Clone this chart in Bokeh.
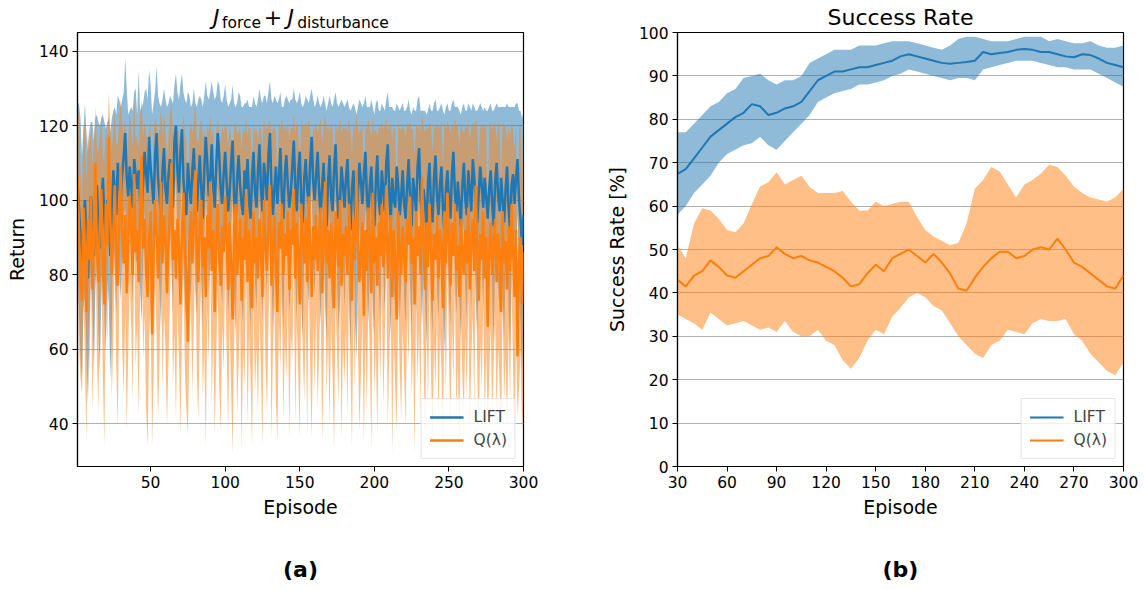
from bokeh.plotting import figure
from bokeh.models import Range1d, FixedTicker, LinearAxis
from bokeh.layouts import row
from bokeh.embed import file_html
from bokeh.resources import INLINE

FONT = "DejaVu Sans"
BLUE = "#1f77b4"
ORANGE = "#ff7f0e"

# ---------------- Panel (a): return per episode ----------------
episodes_a = list(range(1, 301))

lift_mean = [
    104, 98, 90, 82, 95, 100, 88, 79, 92, 101, 96, 85, 99, 104, 93, 87, 98, 106, 95, 89,
    100, 97, 85, 94, 108, 103, 96, 110, 104, 99, 107, 112, 118, 106, 101, 109, 104, 98, 111, 107,
    103, 108, 100, 96, 105, 113, 107, 102, 117, 109, 104, 99, 112, 118, 106, 101, 95, 108, 114, 103,
    99, 107, 111, 104, 98, 116, 120, 108, 102, 113, 119, 106, 100, 96, 110, 104, 99, 108, 114, 101,
    97, 105, 112, 103, 95, 108, 117, 110, 101, 106, 115, 104, 98, 109, 118, 112, 103, 99, 107, 113,
    105, 97, 102, 110, 116, 101, 94, 106, 112, 104, 99, 96, 108, 103, 111, 100, 95, 106, 113, 102,
    98, 108, 115, 103, 97, 110, 106, 100, 112, 118, 104, 96, 103, 109, 99, 106, 114, 101, 95, 107,
    112, 104, 98, 102, 109, 116, 103, 97, 108, 113, 100, 94, 106, 111, 103, 99, 110, 117, 105, 100,
    107, 113, 102, 96, 104, 110, 99, 93, 105, 112, 101, 97, 108, 115, 103, 95, 100, 109, 104, 98,
    106, 111, 100, 92, 103, 108, 97, 90, 102, 110, 105, 99, 107, 113, 101, 96, 104, 109, 98, 93,
    105, 112, 100, 96, 108, 103, 97, 110, 115, 102, 94, 106, 100, 98, 109, 104, 96, 101, 108, 99,
    95, 104, 111, 100, 93, 106, 102, 97, 109, 114, 101, 95, 103, 99, 92, 105, 110, 98, 94, 106,
    112, 101, 96, 104, 109, 98, 91, 103, 108, 100, 95, 107, 113, 102, 97, 105, 99, 93, 104, 110,
    100, 96, 108, 103, 97, 111, 106, 99, 94, 102, 109, 104, 98, 106, 101, 95, 103, 108, 99, 93,
    105, 110, 101, 97, 106, 100, 94, 103, 109, 98, 92, 104, 107, 99, 106, 111, 100, 95, 88, 96,
]
lift_std = [
    22, 28, 32, 30, 24, 26, 30, 34, 27, 20, 25, 31, 23, 19, 28, 33, 24, 17, 26, 30,
    21, 25, 33, 28, 16, 22, 27, 18, 23, 26, 20, 17, 20, 24, 22, 15, 21, 26, 18, 23,
    20, 27, 24, 29, 21, 16, 23, 25, 18, 22, 19, 27, 17, 18, 22, 25, 30, 19, 16, 24,
    26, 19, 17, 23, 28, 15, 14, 21, 25, 18, 15, 23, 27, 30, 19, 24, 26, 18, 16, 25,
    28, 22, 16, 24, 30, 20, 15, 18, 26, 23, 17, 25, 29, 19, 14, 19, 24, 27, 21, 18,
    22, 28, 24, 17, 15, 25, 31, 20, 17, 24, 26, 29, 18, 23, 16, 25, 30, 19, 15, 24,
    27, 19, 15, 24, 29, 18, 22, 26, 17, 14, 23, 30, 25, 18, 27, 21, 15, 24, 30, 20,
    16, 23, 28, 25, 18, 14, 24, 29, 19, 16, 26, 31, 20, 17, 24, 27, 18, 13, 22, 25,
    19, 15, 24, 29, 22, 18, 27, 31, 21, 16, 25, 28, 19, 14, 23, 30, 26, 18, 22, 27,
    20, 16, 25, 32, 22, 18, 28, 33, 23, 17, 21, 26, 19, 15, 24, 29, 21, 18, 27, 30,
    21, 15, 24, 28, 18, 22, 27, 17, 14, 23, 31, 19, 24, 26, 17, 21, 28, 24, 18, 25,
    29, 21, 16, 24, 30, 19, 22, 27, 18, 14, 23, 29, 21, 25, 31, 19, 16, 26, 30, 20,
    15, 23, 28, 21, 17, 26, 32, 22, 18, 24, 29, 19, 14, 23, 28, 20, 25, 30, 21, 16,
    24, 28, 18, 22, 27, 15, 19, 25, 30, 23, 17, 21, 26, 19, 23, 29, 22, 18, 25, 31,
    20, 16, 24, 28, 19, 25, 31, 22, 17, 27, 33, 21, 18, 26, 20, 15, 24, 29, 34, 28,
]
q_mean = [
    106, 92, 80, 73, 98, 88, 70, 95, 84, 101, 76, 90, 110, 86, 78, 94, 103, 82, 72, 99,
    88, 117, 95, 80, 91, 104, 85, 77, 98, 109, 90, 83, 96, 75, 88, 101, 93, 80, 107, 86,
    92, 78, 99, 112, 87, 95, 81, 74, 90, 97, 64, 85, 100, 92, 79, 88, 105, 83, 96, 90,
    75, 87, 98, 110, 84, 92, 79, 95, 88, 72, 91, 102, 86, 80, 62, 89, 97, 83, 94, 108,
    85, 78, 93, 100, 82, 90, 74, 96, 87, 105, 81, 92, 70, 88, 99, 84, 77, 93, 86, 101,
    89, 76, 94, 83, 68, 91, 99, 80, 87, 95, 73, 90, 84, 102, 78, 92, 86, 71, 97, 83,
    90, 79, 95, 86, 74, 100, 88, 81, 93, 104, 77, 89, 96, 82, 70, 94, 87, 99, 80, 91,
    85, 97, 76, 92, 88, 103, 79, 94, 86, 72, 99, 90, 83, 95, 78, 101, 87, 74, 93, 84,
    96, 81, 90, 98, 75, 88, 105, 83, 92, 79, 94, 86, 71, 97, 89, 82, 100, 77, 91, 85,
    93, 80, 99, 87, 73, 95, 84, 108, 90, 78, 86, 94, 69, 92, 81, 98, 88, 75, 102, 83,
    90, 77, 94, 85, 99, 82, 91, 104, 79, 88, 96, 74, 92, 84, 68, 97, 87, 80, 93, 86,
    78, 95, 88, 101, 83, 90, 72, 97, 85, 93, 80, 106, 89, 76, 94, 82, 99, 87, 73, 91,
    84, 96, 79, 92, 88, 71, 97, 83, 102, 90, 77, 94, 85, 99, 81, 88, 74, 95, 86, 80,
    92, 83, 98, 76, 89, 95, 81, 104, 87, 73, 91, 84, 97, 79, 90, 66, 86, 94, 80, 88,
    95, 78, 91, 85, 70, 97, 83, 89, 76, 93, 81, 99, 87, 74, 92, 58, 84, 90, 72, 86,
]
q_std = [
    20, 30, 28, 25, 22, 32, 35, 24, 30, 18, 33, 26, 15, 28, 35, 24, 20, 30, 38, 22,
    27, 12, 25, 33, 28, 20, 30, 38, 24, 18, 30, 35, 26, 37, 29, 22, 27, 34, 20, 31,
    25, 36, 24, 15, 30, 26, 37, 40, 28, 25, 30, 33, 22, 28, 38, 31, 20, 34, 27, 30,
    36, 30, 25, 17, 33, 28, 38, 24, 30, 35, 27, 21, 32, 36, 25, 29, 24, 35, 27, 19,
    32, 37, 27, 22, 35, 29, 40, 25, 31, 18, 36, 28, 33, 30, 23, 34, 39, 27, 32, 20,
    30, 38, 26, 34, 36, 29, 22, 38, 31, 25, 40, 30, 34, 20, 39, 28, 33, 37, 24, 35,
    29, 37, 25, 33, 40, 22, 31, 38, 27, 18, 41, 30, 24, 36, 35, 27, 32, 23, 39, 29,
    33, 24, 40, 28, 31, 20, 39, 27, 33, 36, 23, 30, 37, 26, 41, 21, 32, 38, 27, 35,
    25, 37, 30, 24, 40, 32, 18, 36, 28, 39, 27, 33, 38, 24, 30, 37, 22, 41, 29, 34,
    27, 38, 23, 32, 39, 26, 35, 15, 29, 40, 33, 26, 34, 28, 38, 24, 31, 42, 20, 35,
    29, 40, 26, 34, 22, 37, 29, 18, 40, 31, 25, 42, 28, 35, 30, 24, 32, 39, 27, 33,
    39, 26, 32, 20, 36, 29, 40, 24, 34, 27, 38, 17, 31, 42, 26, 37, 22, 33, 40, 29,
    35, 25, 40, 28, 33, 38, 24, 36, 19, 30, 41, 27, 34, 23, 39, 32, 40, 26, 33, 38,
    28, 36, 23, 40, 31, 26, 38, 18, 33, 37, 29, 35, 24, 40, 30, 25, 34, 27, 39, 32,
    26, 38, 30, 35, 33, 24, 37, 31, 40, 27, 36, 22, 32, 39, 28, 16, 35, 30, 34, 40,
]

xticks_a = [50, 100, 150, 200, 250, 300]
yticks_a = [40, 60, 80, 100, 120, 140]

# ---------------- Panel (b): success rate ----------------
episodes_b = list(range(30, 301, 5))
lift_sr = [67.4, 68.5, 71, 73.5, 76, 77.5, 79, 80.5, 81.5, 83.5, 83, 81, 81.5, 82.5, 83, 84,
           86.5, 89, 90, 91, 91, 91.5, 92, 92, 92.5, 93, 93.5, 94.5, 95, 94.5, 94, 93.5,
           93, 92.8, 93, 93.2, 93.5, 95.5, 95, 95.3, 95.5, 96, 96.2, 96, 95.5, 95.5, 95,
           94.5, 94.3, 95, 94.8, 94, 93, 92.5, 92]
lift_hi = [77, 77, 79, 81, 83, 84, 86, 87, 89.5, 90, 90.5, 89, 88, 89, 89, 90,
           93, 94, 95, 96, 96, 96, 97, 97, 97, 97.5, 98, 98, 98, 97.5, 97, 96.5,
           96, 97, 98.5, 99, 99, 98.5, 98, 98, 98, 98.5, 99, 99, 99, 98, 98.5,
           98, 97.5, 97.5, 98, 97, 96.5, 96.5, 97]
lift_lo = [58, 60, 63, 65, 67, 70, 72, 73, 74, 74.5, 76, 74, 73, 75, 77, 79,
           81, 84, 85, 86, 86.5, 87, 88, 88, 88.5, 89, 90, 90.5, 91.5, 91, 90.5, 90,
           89.5, 89, 89.5, 89.5, 89, 91.5, 92, 92.5, 93, 93.5, 93.5, 93.5, 93, 92.5, 92,
           92, 91.5, 91.5, 91.5, 90.5, 89.5, 88.5, 87.5]
q_sr = [43, 41.5, 44, 45, 47.5, 46, 44, 43.5, 45, 46.5, 48, 48.5, 50.5, 49, 48, 48.5,
        47.5, 47, 46, 45, 43.5, 41.5, 42, 44.5, 46.5, 45, 48, 49, 50, 48.5, 47, 49,
        47, 44.5, 41, 40.5, 43.5, 46, 48, 49.5, 49.5, 48, 48.5, 50, 50.5, 50, 52.5,
        50, 47, 46, 44.5, 43, 41.5, 41, 44]
q_hi = [51, 48, 56, 59.5, 59, 57, 54.5, 54, 56, 60.5, 64.5, 65.5, 67.8, 65, 66, 67,
        64.4, 63, 63, 63, 63.5, 61, 59, 59, 61, 60, 60.5, 61, 61, 57.5, 54.5, 53,
        52, 51, 51.5, 56, 64, 66, 69, 68, 65, 62, 65, 66, 67.5, 69.5, 69,
        67, 64.5, 63, 62, 61.5, 61, 62, 64]
q_lo = [35, 34, 33, 31.5, 35.5, 34, 32.5, 33, 33.5, 32.5, 31.5, 32, 31, 33.5, 31, 30,
        30, 31.5, 29, 28, 24.5, 22.5, 25, 29, 31.5, 30.5, 34.5, 36.5, 39, 40, 39, 37,
        36, 33, 30, 28, 26, 25, 28, 29, 31.5, 31, 30.5, 33, 34, 33.5, 33.5,
        34, 30.5, 29, 26, 24, 22, 21, 24]

xticks_b = [30, 60, 90, 120, 150, 180, 210, 240, 270, 300]
yticks_b = [0, 10, 20, 30, 40, 50, 60, 70, 80, 90, 100]

# title pieces, keyed by horizontal anchor in episode units
title_main_a = {94: "J", 132: "+", 144: "J"}
title_sub_a = {111: "force", 179: "disturbance"}
title_b = {165: "Success Rate"}


def make_fig(xr, yr, left, right, xticks, yticks, ylabel, tag):
    p = figure(width=572, height=589, x_range=Range1d(*xr), y_range=Range1d(*yr),
               output_backend="svg", toolbar_location=None,
               min_border_left=left, min_border_right=right,
               min_border_top=32, min_border_bottom=123)
    p.background_fill_color = "white"
    p.border_fill_color = "white"
    p.outline_line_color = "black"
    p.outline_line_width = 1.2
    p.outline_line_alpha = 1
    p.xgrid.visible = False
    p.ygrid.grid_line_color = "#b0b0b0"
    p.ygrid.grid_line_width = 1
    p.xaxis.ticker = FixedTicker(ticks=xticks)
    p.yaxis.ticker = FixedTicker(ticks=yticks)
    for ax in [p.xaxis[0], p.yaxis[0]]:
        ax.axis_line_color = "black"
        ax.axis_line_width = 1.2
        ax.major_tick_line_color = "black"
        ax.major_tick_in = 0
        ax.major_tick_out = 5
        ax.minor_tick_line_color = None
        ax.major_label_text_font = FONT
        ax.major_label_text_font_size = "15.5px"
        ax.major_label_text_color = "black"
        ax.axis_label_text_font = FONT
        ax.axis_label_text_font_size = "19px"
        ax.axis_label_text_font_style = "normal"
        ax.axis_label_text_color = "black"
        ax.major_label_standoff = 4
    p.xaxis.axis_label = "Episode"
    p.xaxis.axis_label_standoff = 5
    p.yaxis.axis_label = ylabel
    p.yaxis.axis_label_standoff = 8
    tag_axis = LinearAxis(ticker=FixedTicker(ticks=[]), axis_label=tag,
                          axis_line_color=None, major_tick_line_color=None,
                          minor_tick_line_color=None,
                          axis_label_text_font=FONT, axis_label_text_font_size="22px",
                          axis_label_text_font_style="bold", axis_label_text_color="black",
                          axis_label_standoff=36)
    p.add_layout(tag_axis, "below")
    return p


def text_axis(pieces, size, style, standoff):
    ticks = sorted(pieces.keys())
    return LinearAxis(ticker=FixedTicker(ticks=ticks),
                      major_label_overrides={t: pieces[t] for t in ticks},
                      axis_line_color=None, major_tick_line_color=None,
                      minor_tick_line_color=None, major_tick_in=0, major_tick_out=0,
                      major_label_text_font=FONT, major_label_text_font_size=size,
                      major_label_text_font_style=style, major_label_text_color="black",
                      major_label_standoff=standoff)


def style_legend(p):
    lg = p.legend[0]
    lg.location = "bottom_right"
    lg.label_text_font = FONT
    lg.label_text_font_size = "15.5px"
    lg.glyph_width = 34
    lg.glyph_height = 20
    lg.label_standoff = 10
    lg.spacing = 3
    lg.padding = 8
    lg.margin = 7
    lg.border_line_color = "#cccccc"
    lg.border_line_width = 1
    lg.background_fill_alpha = 0.8


# ---- figure (a)
pa = make_fig((1, 300), (28.5, 145), 77, 49, xticks_a, yticks_a, "Return", "(a)")
n = min(len(lift_mean), len(lift_std), len(q_mean), len(q_std), len(episodes_a))
xa = episodes_a[:n]
lift_up = [m + s for m, s in zip(lift_mean[:n], lift_std[:n])]
lift_dn = [m - s for m, s in zip(lift_mean[:n], lift_std[:n])]
q_up = [m + s for m, s in zip(q_mean[:n], q_std[:n])]
q_dn = [m - s for m, s in zip(q_mean[:n], q_std[:n])]
pa.varea(x=xa, y1=lift_dn, y2=lift_up, fill_color=BLUE, fill_alpha=0.5)
pa.varea(x=xa, y1=q_dn, y2=q_up, fill_color=ORANGE, fill_alpha=0.5)
pa.line(xa, lift_mean[:n], line_color=BLUE, line_width=2.5, legend_label="LIFT")
pa.line(xa, q_mean[:n], line_color=ORANGE, line_width=2.5, legend_label="Q(λ)")
style_legend(pa)
# title J_force + J_disturbance: subscript row next to the frame, main row overlapping it
pa.add_layout(text_axis(title_sub_a, "15.5px", "normal", 1), "above")
pa.add_layout(text_axis(title_main_a, "22px", "italic", -19), "above")

# ---- figure (b)
pb = make_fig((30, 300), (0, 100), 105, 21, xticks_b, yticks_b, "Success Rate [%]", "(b)")
pb.varea(x=episodes_b, y1=lift_lo, y2=lift_hi, fill_color=BLUE, fill_alpha=0.5)
pb.varea(x=episodes_b, y1=q_lo, y2=q_hi, fill_color=ORANGE, fill_alpha=0.5)
pb.line(episodes_b, lift_sr, line_color=BLUE, line_width=2, legend_label="LIFT")
pb.line(episodes_b, q_sr, line_color=ORANGE, line_width=2, legend_label="Q(λ)")
style_legend(pb)
pb.add_layout(text_axis(title_b, "22px", "normal", 3), "above")

layout = row(pa, pb, spacing=0)
open("out.html", "w").write(file_html(layout, INLINE))
